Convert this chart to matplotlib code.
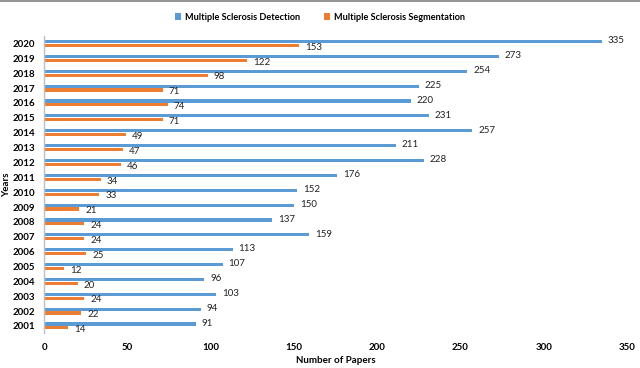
import matplotlib
matplotlib.use("Agg")
import matplotlib.pyplot as plt
import numpy as np

years = [2001, 2002, 2003, 2004, 2005, 2006, 2007, 2008, 2009, 2010,
         2011, 2012, 2013, 2014, 2015, 2016, 2017, 2018, 2019, 2020]
detection = [91, 94, 103, 96, 107, 113, 159, 137, 150, 152,
             176, 228, 211, 257, 231, 220, 225, 254, 273, 335]
segmentation = [14, 22, 24, 20, 12, 25, 24, 24, 21, 33,
                34, 46, 47, 49, 71, 74, 71, 98, 122, 153]
x_ticks = [0, 50, 100, 150, 200, 250, 300, 350]

plt.rcParams['font.family'] = ['Lato', 'DejaVu Sans']

fig = plt.figure(figsize=(6.4, 3.68), dpi=100)
ax = fig.add_axes([0.0695, 0.094, 0.910, 0.808])

y = np.arange(len(years))
h = 0.21
off = 0.13
c_blue = '#5B9BD5'
c_orange = '#ED7D31'
b1 = ax.barh(y + off, detection, height=h, color=c_blue, label='Multiple Sclerosis Detection')
b2 = ax.barh(y - off, segmentation, height=h, color=c_orange, label='Multiple Sclerosis Segmentation')

for yi, v in zip(y, detection):
    ax.text(v + 3.6, yi + off + 0.05, str(v), va='center', ha='left', fontsize=7, color='#222222')
for yi, v in zip(y, segmentation):
    ax.text(v + 3.6, yi - off - 0.12, str(v), va='center', ha='left', fontsize=7, color='#222222')

ax.set_xlim(0, 350)
ax.set_ylim(-0.5, len(years) - 0.5)
ax.set_xticks(x_ticks)
ax.set_xticklabels([str(t) for t in x_ticks], fontsize=7, fontweight='bold')
ax.set_yticks(y)
ax.set_yticklabels([str(yr) for yr in years], fontsize=7, fontweight='bold')
ax.tick_params(axis='y', length=0, pad=6.5)
ax.tick_params(axis='x', length=0, pad=7)
for s in ['top', 'right', 'bottom']:
    ax.spines[s].set_visible(False)
ax.spines['left'].set_color('#BFBFBF')
ax.spines['left'].set_linewidth(1)

ax.set_xlabel('Number of Papers', fontsize=7, fontweight='bold', labelpad=3)
fig.text(0.011, 0.094 + 0.808 / 2, 'Years', rotation=90, ha='center', va='center',
         fontsize=7, fontweight='bold')

leg = fig.legend(handles=[b1, b2], loc='center', bbox_to_anchor=(0.5, 0.953), ncol=2,
                 frameon=False, fontsize=6.6, handlelength=0.7, handleheight=0.7,
                 columnspacing=2.6, handletextpad=0.4)
for t in leg.get_texts():
    t.set_fontweight('bold')

fig.add_artist(plt.Line2D([0, 1], [0.997, 0.997], color='#808080', linewidth=1.2, transform=fig.transFigure))

fig.savefig('out.png', dpi=100)
